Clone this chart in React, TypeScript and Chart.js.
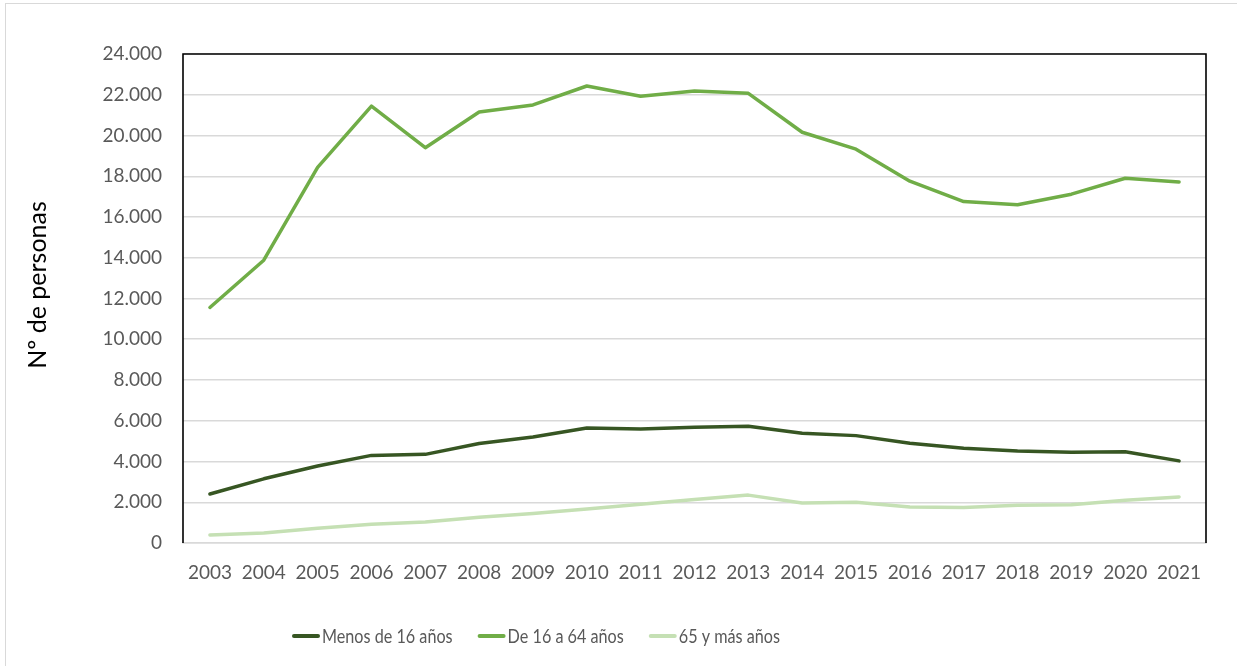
import React, { useEffect, useRef } from "react";
import { Chart, registerables } from "chart.js";

Chart.register(...registerables);

const years = [
  "2003", "2004", "2005", "2006", "2007", "2008", "2009", "2010", "2011", "2012",
  "2013", "2014", "2015", "2016", "2017", "2018", "2019", "2020", "2021",
];
const menos16 = [2405, 3150, 3780, 4300, 4350, 4880, 5200, 5640, 5600, 5680, 5730, 5390, 5270, 4900, 4650, 4520, 4450, 4480, 4030];
const de16a64 = [11560, 13880, 18440, 21440, 19400, 21150, 21500, 22430, 21930, 22180, 22070, 20160, 19330, 17760, 16760, 16600, 17120, 17900, 17720];
const mas65 = [390, 490, 720, 920, 1030, 1260, 1450, 1670, 1900, 2140, 2350, 1960, 2000, 1770, 1740, 1850, 1880, 2100, 2260];
const seriesNames = ["Menos de 16 años", "De 16 a 64 años", "65 y más años"];
const seriesColors = ["#375623", "#70AD47", "#C5E0B4"];
const yAxisTitle = "Nº de personas";
const yMin = 0;
const yMax = 24000;
const yStep = 2000;

const fmt = (v: number) => String(v).replace(/\B(?=(\d{3})+(?!\d))/g, ".");

const FONT = "Lato, 'Noto Sans', sans-serif";

const decorPlugin = {
  id: "decor",
  afterDraw(chart: any) {
    const { ctx, chartArea } = chart;
    const { left, top, right, bottom } = chartArea;
    ctx.save();
    // plot area border (top, left, right)
    ctx.strokeStyle = "#000000";
    ctx.lineWidth = 1.6;
    ctx.beginPath();
    ctx.moveTo(left, bottom);
    ctx.lineTo(left, top);
    ctx.lineTo(right, top);
    ctx.lineTo(right, bottom);
    ctx.stroke();

    // y axis title
    ctx.save();
    ctx.translate(38, 285);
    ctx.rotate(-Math.PI / 2);
    ctx.font = `25px ${FONT}`;
    ctx.fillStyle = "#000000";
    ctx.textAlign = "center";
    ctx.textBaseline = "middle";
    ctx.fillText(yAxisTitle, 0, 0);
    ctx.restore();

    // legend
    let x = 293;
    const y = 636;
    const squeeze = 0.83;
    ctx.font = `19.5px ${FONT}`;
    ctx.textBaseline = "middle";
    ctx.textAlign = "left";
    chart.data.datasets.forEach((ds: any) => {
      ctx.strokeStyle = ds.borderColor;
      ctx.lineWidth = 4;
      ctx.lineCap = "round";
      ctx.beginPath();
      ctx.moveTo(x + 1, y);
      ctx.lineTo(x + 25, y);
      ctx.stroke();
      ctx.fillStyle = "#595959";
      const w = ctx.measureText(ds.label).width * squeeze;
      ctx.fillText(ds.label, x + 29, y + 1, w);
      x += 29 + w + 26;
    });
    ctx.restore();
  },
};

export default function App() {
  const ref = useRef<HTMLCanvasElement | null>(null);
  useEffect(() => {
    if (!ref.current) return;
    const chart = new Chart(ref.current, {
      type: "line",
      data: {
        labels: years,
        datasets: [menos16, de16a64, mas65].map((d, i) => ({
          label: seriesNames[i],
          data: d,
          borderColor: seriesColors[i],
          backgroundColor: seriesColors[i],
          borderWidth: 3.5,
          pointRadius: 0,
          tension: 0,
          borderJoinStyle: "round" as const,
          borderCapStyle: "round" as const,
        })),
      },
      options: {
        responsive: false,
        animation: false,
        layout: { padding: { top: 54, right: 31, left: 0, bottom: 0 } },
        plugins: {
          legend: { display: false },
          tooltip: { enabled: false },
        },
        scales: {
          x: {
            offset: true,
            grid: { display: false, drawTicks: false },
            border: { color: "#D9D9D9", width: 1.5 },
            ticks: {
              color: "#595959",
              font: { family: FONT, size: 19 },
              padding: 18,
              maxRotation: 0,
              autoSkip: false,
            },
            afterFit: (scale: any) => {
              scale.height = 123;
            },
          },
          y: {
            min: yMin,
            max: yMax,
            grid: { color: "#D9D9D9", lineWidth: 1.5, drawTicks: false },
            border: { display: false },
            ticks: {
              stepSize: yStep,
              color: "#595959",
              font: { family: FONT, size: 19 },
              padding: 21,
              callback: (v: any) => fmt(Number(v)),
            },
            afterFit: (scale: any) => {
              scale.width = 183;
            },
          },
        },
      },
      plugins: [decorPlugin],
    });
    return () => chart.destroy();
  }, []);

  return (
    <div style={{ position: "fixed", left: 0, top: 0, width: 1237, height: 666, background: "#ffffff", overflow: "hidden" }}>
      <div
        style={{
          position: "absolute",
          left: 5,
          top: 3,
          width: 1260,
          height: 700,
          border: "1.5px solid #D9D9D9",
          boxSizing: "border-box",
        }}
      />
      <canvas ref={ref} width={1237} height={666} style={{ position: "absolute", left: 0, top: 0, display: "block" }} />
    </div>
  );
}
